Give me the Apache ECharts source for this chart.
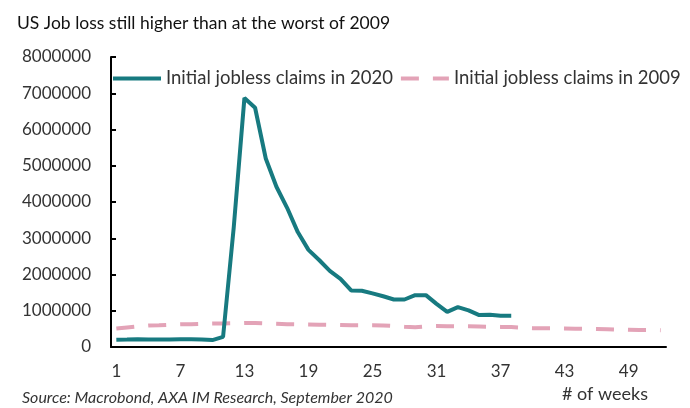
<!DOCTYPE html>
<html>
<head>
<meta charset="utf-8">
<script src="https://cdn.jsdelivr.net/npm/echarts@6/dist/echarts.min.js"></script>
<style>
  html, body { margin: 0; padding: 0; background: #fff; }
  #chart { width: 690px; height: 408px; }
</style>
</head>
<body>
<div id="chart"></div>
<script>
// week numbers 1..52
var weeks = ['1','2','3','4','5','6','7','8','9','10','11','12','13','14','15','16','17','18','19','20',
  '21','22','23','24','25','26','27','28','29','30','31','32','33','34','35','36','37','38','39','40',
  '41','42','43','44','45','46','47','48','49','50','51','52'];

// initial jobless claims, 2020 (weeks 1-38)
var claims2020 = [200000, 205000, 215000, 205000, 210000, 210000, 215000, 215000, 210000, 190000,
  280000, 3300000, 6870000, 6600000, 5200000, 4420000, 3840000, 3170000, 2680000, 2400000,
  2100000, 1880000, 1560000, 1550000, 1480000, 1400000, 1310000, 1310000, 1430000, 1430000,
  1190000, 970000, 1100000, 1010000, 880000, 890000, 860000, 860000];

// initial jobless claims, 2009
var claims2009 = [510000, 540000, 570000, 590000, 600000, 615000, 625000, 630000, 640000, 645000,
  650000, 655000, 665000, 660000, 650000, 640000, 630000, 625000, 620000, 615000,
  610000, 605000, 600000, 600000, 600000, 595000, 580000, 560000, 545000, 570000,
  580000, 575000, 570000, 570000, 565000, 560000, 555000, 550000, 535000, 520000,
  515000, 515000, 510000, 505000, 500000, 495000, 490000, 480000, 475000, 470000,
  470000, 465000];

var FONT = 'Lato';
var chart = echarts.init(document.getElementById('chart'));

chart.setOption({
  backgroundColor: '#fff',
  animation: false,
  textStyle: { fontFamily: FONT },
  title: {
    text: 'US Job loss still higher than at the worst of 2009',
    left: 12,
    top: 9,
    textStyle: { fontFamily: FONT, fontSize: 17.5, fontWeight: 'normal', color: '#111' }
  },
  legend: {
    left: 111,
    top: 69,
    width: 640,
    padding: 0,
    itemWidth: 48,
    itemHeight: 8,
    itemGap: 6,
    itemStyle: { opacity: 0 },
    lineStyle: { width: 4 },
    textStyle: { fontFamily: FONT, fontSize: 18.5, color: '#333' },
    data: ['Initial jobless claims in 2020', 'Initial jobless claims in 2009']
  },
  grid: { left: 111, right: 24, top: 57, bottom: 61 },
  xAxis: {
    type: 'category',
    data: weeks,
    boundaryGap: true,
    axisLine: { lineStyle: { color: '#000', width: 2 } },
    axisTick: { inside: true, length: 6, interval: 5, lineStyle: { color: '#000', width: 2 } },
    axisLabel: { interval: 5, margin: 16, fontFamily: FONT, fontSize: 17, color: '#333' },
    splitLine: { show: false }
  },
  yAxis: {
    type: 'value',
    min: 0,
    max: 8000000,
    interval: 1000000,
    axisLine: { show: true, lineStyle: { color: '#000', width: 2 } },
    axisTick: { show: true, inside: true, length: 5, lineStyle: { color: '#000', width: 2 } },
    axisLabel: {
      margin: 20, fontFamily: FONT, fontSize: 17, color: '#333',
      formatter: function (v) { return String(v); }
    },
    splitLine: { show: false }
  },
  graphic: [
    {
      type: 'text',
      left: 22,
      top: 390,
      style: {
        text: 'Source: Macrobond, AXA IM Research, September 2020',
        fontFamily: FONT, fontSize: 16, fontStyle: 'italic', fill: '#333'
      }
    },
    {
      type: 'text',
      left: 562,
      top: 385,
      style: { text: '# of weeks', fontFamily: FONT, fontSize: 18, fill: '#333' }
    }
  ],
  series: [
    {
      name: 'Initial jobless claims in 2020',
      type: 'line',
      data: claims2020,
      showSymbol: false,
      symbol: 'none',
      z: 3,
      lineStyle: { color: '#177a80', width: 4 },
      itemStyle: { color: '#177a80' }
    },
    {
      name: 'Initial jobless claims in 2009',
      type: 'line',
      data: claims2009,
      showSymbol: false,
      symbol: 'none',
      z: 2,
      lineStyle: { color: '#e3a3b7', width: 4, type: [18, 14] },
      itemStyle: { color: '#e3a3b7' }
    }
  ]
});
</script>
</body>
</html>
